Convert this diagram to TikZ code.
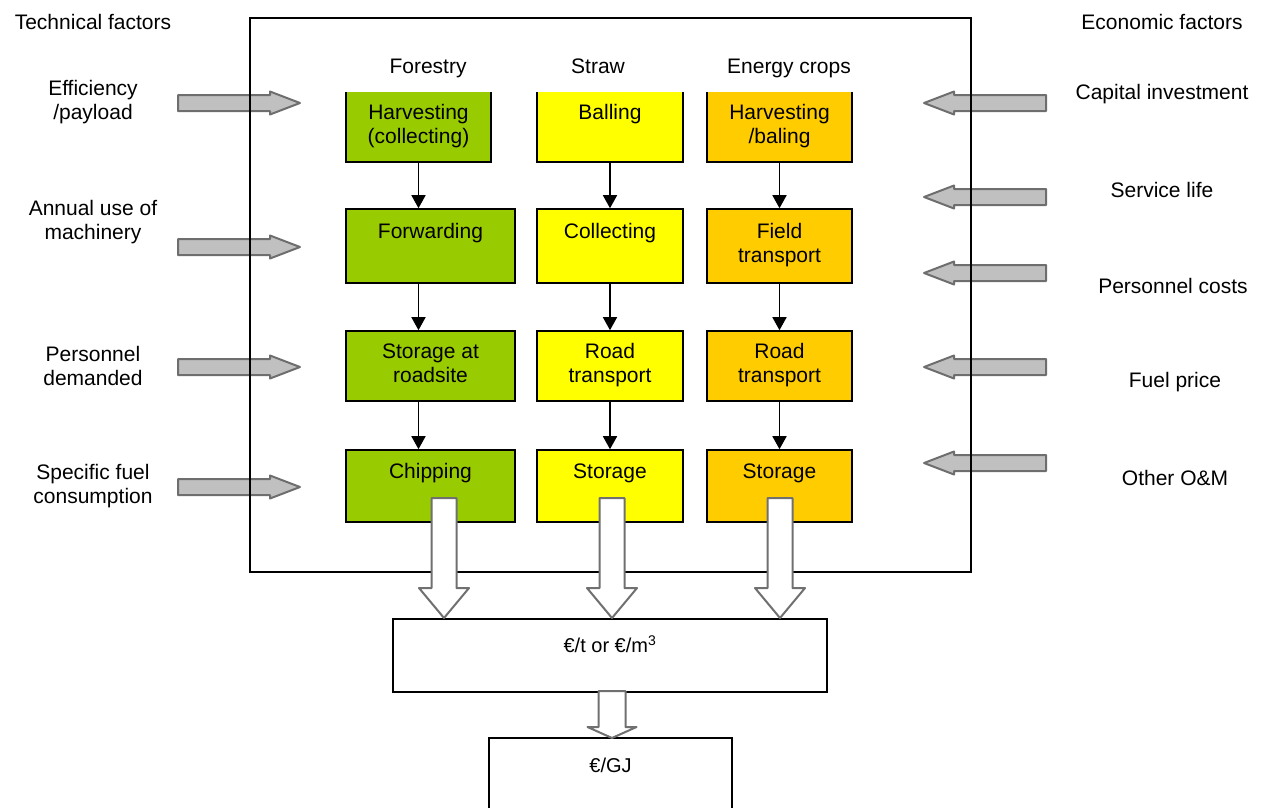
\documentclass[tikz,border=0pt]{standalone}
\usepackage{fontspec}
\setmainfont{Liberation Sans}
\usetikzlibrary{arrows.meta}
\definecolor{forestcol}{HTML}{99CC00}
\definecolor{strawcol}{HTML}{FFFF00}
\definecolor{cropcol}{HTML}{FFCC00}
\definecolor{factorfill}{HTML}{C0C0C0}
\definecolor{factoredge}{HTML}{6E6E6E}
\definecolor{flowedge}{HTML}{707070}
\newcommand{\tl}[2]{#1\strut\\#2\strut}
\begin{document}
\begin{tikzpicture}[x=1pt,y=-1pt,
  every node/.style={font=\fontsize{21}{24}\selectfont, inner sep=0pt},
  txt/.style={align=center},
  heading/.style={anchor=base},
  stepbox/.style={draw, line width=1.6pt, align=center},
  openbox/.style={align=center},
  link/.style={line width=1.6pt, -{Triangle[length=13pt,width=14pt]}},
  factor/.style={fill=factorfill, draw=factoredge, line width=2pt, line join=round},
  hollow/.style={fill=white, draw=flowedge, line width=2pt, line join=round},
  resultbox/.style={draw, line width=1.6pt, font=\fontsize{20}{24}\selectfont},
  pics/factorarrow/.style={code={
    \draw[factor] (0,-8) -- (92,-8) -- (92,-11.5) -- (122,0) -- (92,11.5) -- (92,8) -- (0,8) -- cycle;}},
  pics/flowdown/.style n args={4}{code={% half shaft, half head, shaft length, head length
    \draw[hollow] (-#1,0) -- (-#1,#3) -- (-#2,#3) -- (0,#3+#4) -- (#2,#3) -- (#1,#3) -- (#1,0) -- cycle;}}
]
\useasboundingbox (0,0) rectangle (1261,807);

% factor arrows entering the process frame
\pic at (178,103) {factorarrow};
\pic at (178,247) {factorarrow};
\pic at (178,367) {factorarrow};
\pic at (178,487) {factorarrow};
\pic[xscale=-1] at (1046,103) {factorarrow};
\pic[xscale=-1] at (1046,197) {factorarrow};
\pic[xscale=-1] at (1046,273) {factorarrow};
\pic[xscale=-1] at (1046,367) {factorarrow};
\pic[xscale=-1] at (1046,463) {factorarrow};

% process frame
\node[draw, line width=1.6pt, minimum width=721, minimum height=554] (frame) at (610.5,295) {};

% side headings and factors
\node[txt] (tech) at (93,22) {Technical factors};
\node[txt] (eff) at (93,102) {Efficiency\\/payload};
\node[txt] (annual) at (93,222) {Annual use of\\machinery};
\node[txt] (persd) at (93,366) {Personnel\\demanded};
\node[txt] (fuelc) at (93,486) {Specific fuel\\consumption};

\node[txt] (econ) at (1162,22) {Economic factors};
\node[txt] (capital) at (1162,94) {Capital investment};
\node[txt] (life) at (1162,190) {Service life};
\node[txt] (persc) at (1173,286) {Personnel costs};
\node[txt] (fuelp) at (1175,382) {Fuel price};
\node[txt] (om) at (1175,478) {Other O\&M};

% column headings
\node[heading] (hforest) at (428,73) {Forestry};
\node[heading] (hstraw) at (598,73) {Straw};
\node[heading] (hcrop) at (789,73) {Energy crops};

% first row: boxes open at the top
\node[openbox, fill=forestcol, minimum width=145, minimum height=70] (f1) at (418.5,127) {\tl{Harvesting}{(collecting)}};
\node[openbox, fill=strawcol, minimum width=146, minimum height=70] (s1) at (610,127) {\tl{Balling}{}};
\node[openbox, fill=cropcol, minimum width=145, minimum height=70] (c1) at (779.5,127) {\tl{Harvesting}{/baling}};
\foreach \b in {f1,s1,c1}
  \draw[line width=1.6pt] (\b.north west) -- (\b.south west) -- (\b.south east) -- (\b.north east);

% remaining rows
\node[stepbox, fill=forestcol, minimum width=169, minimum height=74] (f2) at (430.5,246) {\tl{Forwarding}{}};
\node[stepbox, fill=strawcol, minimum width=146, minimum height=74] (s2) at (610,246) {\tl{Collecting}{}};
\node[stepbox, fill=cropcol, minimum width=145, minimum height=74] (c2) at (779.5,246) {\tl{Field}{transport}};

\node[stepbox, fill=forestcol, minimum width=169, minimum height=70] (f3) at (430.5,366) {\tl{Storage at}{roadsite}};
\node[stepbox, fill=strawcol, minimum width=146, minimum height=70] (s3) at (610,366) {\tl{Road}{transport}};
\node[stepbox, fill=cropcol, minimum width=145, minimum height=70] (c3) at (779.5,366) {\tl{Road}{transport}};

\node[stepbox, fill=forestcol, minimum width=169, minimum height=72] (f4) at (430.5,486) {\tl{Chipping}{}};
\node[stepbox, fill=strawcol, minimum width=146, minimum height=72] (s4) at (610,486) {\tl{Storage}{}};
\node[stepbox, fill=cropcol, minimum width=145, minimum height=72] (c4) at (779.5,486) {\tl{Storage}{}};

% step connectors
\draw[link] (f1.south) -- (f1.south |- f2.north);
\draw[link] (f1.south |- f2.south) -- (f1.south |- f3.north);
\draw[link] (f1.south |- f3.south) -- (f1.south |- f4.north);
\foreach \col in {s,c}{
  \draw[link] (\col1.south) -- (\col2.north);
  \draw[link] (\col2.south) -- (\col3.north);
  \draw[link] (\col3.south) -- (\col4.north);
}

% cost results
\node[resultbox, anchor=north, minimum width=434, text height=34, text depth=39] (perton) at (610,618) {€/t or €/m\textsuperscript{3}};
\node[anchor=north, minimum width=243, text height=34, text depth=60, font=\fontsize{20}{24}\selectfont] (pergj) at (610.5,738) {€/GJ};
\draw[line width=1.6pt] (pergj.south west) -- (pergj.north west) -- (pergj.north east) -- (pergj.south east);

% flows into the cost results
\pic at (444,498) {flowdown={12.5}{25}{90}{30}};
\pic at (612,498) {flowdown={12.5}{25}{90}{30}};
\pic at (780,498) {flowdown={12.5}{25}{90}{30}};
\pic at (612,691) {flowdown={13.5}{24.5}{36}{11}};
\end{tikzpicture}
\end{document}
